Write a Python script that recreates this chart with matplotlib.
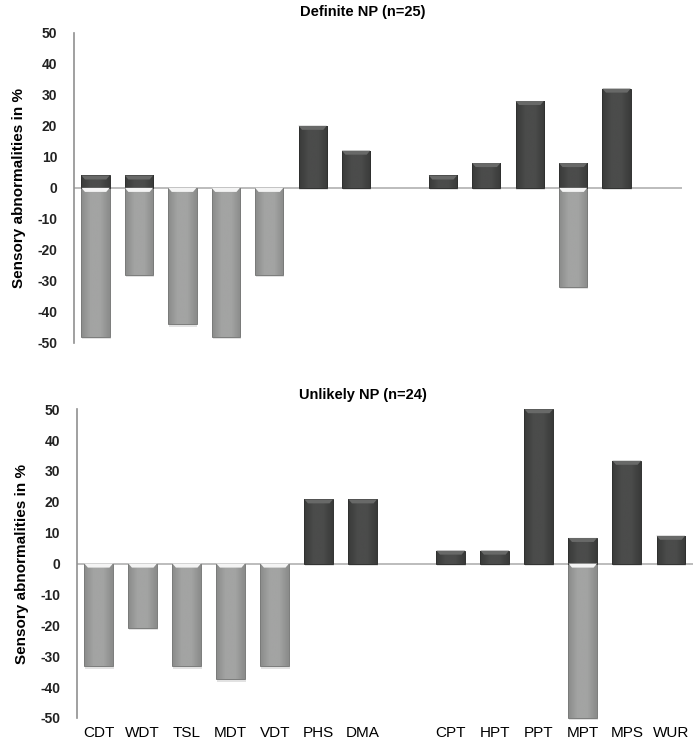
import numpy as np
import matplotlib.pyplot as plt
from matplotlib.patches import Polygon, Rectangle
from matplotlib.colors import LinearSegmentedColormap

plt.rcParams['font.family'] = ['Liberation Sans', 'DejaVu Sans']

# categories (empty slot = gap between groups)
labels = ['CDT', 'WDT', 'TSL', 'MDT', 'VDT', 'PHS', 'DMA', '',
          'CPT', 'HPT', 'PPT', 'MPT', 'MPS', 'WUR']

# Definite NP (n=25): gain of function (dark) / loss of function (light)
def_gain = [4, 4, 0, 0, 0, 20, 12, 0, 4, 8, 28, 8, 32, 0]
def_loss = [-48, -28, -44, -48, -28, 0, 0, 0, 0, 0, 0, -32, 0, 0]

# Unlikely NP (n=24)
unl_gain = [0, 0, 0, 0, 0, 20.8, 20.8, 0, 4.2, 4.2, 50, 8.3, 33.3, 9.0]
unl_loss = [-33.3, -20.8, -33.3, -37.5, -33.3, 0, 0, 0, 0, 0, 0, -50, 0, 0]

titles = ['Definite NP (n=25)', 'Unlikely NP (n=24)']
yticks = [-50, -40, -30, -20, -10, 0, 10, 20, 30, 40, 50]

dark_cmap = LinearSegmentedColormap.from_list('d', ['#393a39', '#4b4c4b', '#4b4c4b', '#393a39'])
light_cmap = LinearSegmentedColormap.from_list('l', ['#8a8b8a', '#a3a4a3', '#a3a4a3', '#8a8b8a'])


def bevel_bars(ax, bars, cmap, edge, top_col):
    grad = np.linspace(0, 1, 64).reshape(1, -1)
    for b in bars:
        h = b.get_height()
        if h == 0:
            continue
        x0 = b.get_x()
        w = b.get_width()
        y0 = min(b.get_y(), b.get_y() + h)
        y1 = max(b.get_y(), b.get_y() + h)
        # soft shadow under the bar
        ax.add_patch(Rectangle((x0 + 0.02, y0 - 0.7), w, 0.7, facecolor='#e2e2e2',
                               edgecolor='none', zorder=1, clip_on=False))
        im = ax.imshow(grad, cmap=cmap, aspect='auto', extent=(x0, x0 + w, y0, y1),
                       zorder=3, interpolation='bicubic')
        im.set_clip_path(b)
        b.set_edgecolor(edge)
        b.set_linewidth(0.7)
        b.set_facecolor('none')
        b.set_zorder(4)
        b.set_clip_on(False)
        # top bevel
        d = 0.08
        bh = min(1.3, (y1 - y0) * 0.35)
        ax.add_patch(Polygon([(x0, y1), (x0 + w, y1), (x0 + w - d, y1 - bh), (x0 + d, y1 - bh)],
                             closed=True, facecolor=top_col, edgecolor='none', zorder=5))


fig = plt.figure(figsize=(6.97, 7.44), dpi=100)
axes = [fig.add_axes([0.106, 0.539, 0.872, 0.417]),
        fig.add_axes([0.110, 0.035, 0.884, 0.415])]
title_y = [1 - 12 / 744, 1 - 395 / 744]

x = np.arange(len(labels))
data = [(def_gain, def_loss), (unl_gain, unl_loss)]

for i, ax in enumerate(axes):
    gain, loss = data[i]
    ax.axhline(0, color='#b0b0b0', lw=1.2, zorder=2)
    lb = ax.bar(x, loss, width=0.65, color='#a0a1a0')
    gb = ax.bar(x, gain, width=0.65, color='#4a4b4a')
    bevel_bars(ax, lb, light_cmap, '#7a7b7a', '#f4f4f4')
    bevel_bars(ax, gb, dark_cmap, '#2f302f', '#686968')

    ax.set_xlim(-0.5, len(labels) - 0.5)
    ax.set_ylim(-50, 50)
    ax.set_yticks(yticks)
    ax.set_yticklabels([str(t) for t in yticks], fontsize=10, fontweight='bold', color='#222222')
    ax.tick_params(axis='y', length=0, pad=12)
    for s in ['top', 'right', 'bottom']:
        ax.spines[s].set_visible(False)
    ax.spines['left'].set_color('#909090')
    ax.spines['left'].set_linewidth(1.2)
    ax.set_ylabel('Sensory abnormalities in %', fontsize=11, fontweight='bold', labelpad=8)
    if i == 1:
        ax.set_xticks(x)
        ax.set_xticklabels(labels, fontsize=11)
        ax.tick_params(axis='x', length=0, pad=6)
    else:
        ax.set_xticks([])
    fig.text(363 / 697, title_y[i], titles[i], ha='center', va='center',
             fontsize=10.5, fontweight='bold')

fig.savefig('out.png', dpi=100)
